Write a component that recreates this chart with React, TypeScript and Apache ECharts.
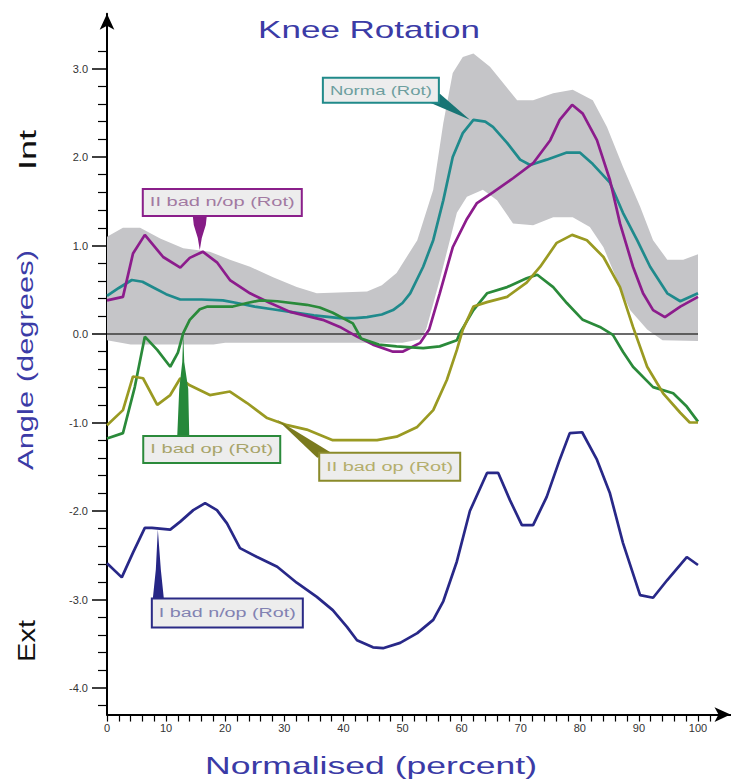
import React, { useEffect, useRef } from 'react';
import * as echarts from 'echarts';

const W = 731;
const H = 782;
const FONT = '"Liberation Sans", Arial, sans-serif';

// Knee rotation over the normalised cycle, [percent, degrees]
const normaRot: [number, number][] = [
  [0, 0.43], [2, 0.52], [4.2, 0.61], [6, 0.59], [8, 0.52], [10, 0.45], [12.4, 0.39], [16, 0.39],
  [19.6, 0.38], [22, 0.35], [25, 0.31], [28, 0.28], [31, 0.25], [35, 0.21], [39.4, 0.18], [42, 0.18],
  [44, 0.19], [46.5, 0.22], [48.4, 0.27], [50, 0.35], [51.3, 0.46], [53.5, 0.76], [55.2, 1.06],
  [56.9, 1.51], [58.5, 2.0], [60.2, 2.27], [62, 2.42], [64, 2.4], [65.3, 2.34], [67.7, 2.16],
  [69.9, 1.97], [71.6, 1.91], [74.4, 1.97], [77.8, 2.05], [80, 2.05], [82.2, 1.92], [85.1, 1.71],
  [87.3, 1.37], [89.7, 1.06], [91.9, 0.76], [94.8, 0.46], [97, 0.37], [100, 0.46],
];

const badNopII: [number, number][] = [
  [0, 0.38], [2.7, 0.42], [4.4, 0.91], [6.4, 1.12], [9.5, 0.87], [12.4, 0.75], [14, 0.86],
  [16.2, 0.93], [18.6, 0.81], [20.8, 0.61], [24.2, 0.46], [27.6, 0.35], [31, 0.25], [36.5, 0.16],
  [39.4, 0.08], [42.3, -0.03], [45, -0.12], [48.4, -0.2], [50, -0.2], [53, -0.1], [54.5, 0.05],
  [56.3, 0.46], [58.5, 0.98], [60.9, 1.3], [62.6, 1.48], [65.3, 1.6], [68.7, 1.76], [72.1, 1.93],
  [75, 2.19], [76.6, 2.42], [78.7, 2.59], [80.5, 2.49], [82.9, 2.19], [85.1, 1.74], [86.8, 1.25],
  [89, 0.76], [90.7, 0.46], [92.4, 0.27], [94.4, 0.19], [97, 0.31], [100, 0.42],
];

const badOpI: [number, number][] = [
  [0, -1.18], [2.7, -1.12], [4.7, -0.6], [6.4, -0.03], [8.5, -0.18], [10.7, -0.37], [12, -0.21],
  [12.9, 0.01], [14, 0.16], [15.7, 0.28], [17, 0.31], [19.6, 0.31], [21.3, 0.31], [23.7, 0.35],
  [25.9, 0.38], [28.8, 0.37], [33.8, 0.33], [36, 0.3], [38.2, 0.24], [41.6, 0.12], [43, -0.05],
  [46, -0.12], [49, -0.14], [53.5, -0.16], [56.3, -0.14], [59.2, -0.07], [59.7, 0.01], [62, 0.27],
  [64.3, 0.46], [67.7, 0.53], [71, 0.63], [72.8, 0.67], [75.5, 0.53], [77.8, 0.35], [80.5, 0.16],
  [83.4, 0.08], [85.6, -0.01], [87.3, -0.2], [89, -0.37], [92.4, -0.6], [95.8, -0.67], [98.1, -0.82],
  [100, -0.99],
];

const badOpII: [number, number][] = [
  [0, -1.03], [2.7, -0.86], [4.4, -0.48], [6.1, -0.5], [8.5, -0.8], [10.7, -0.69], [12.4, -0.5],
  [14, -0.58], [17.4, -0.69], [20.8, -0.65], [23.7, -0.78], [27.1, -0.95], [30.5, -1.03],
  [33.8, -1.08], [38.2, -1.2], [45.7, -1.2], [49, -1.16], [52.5, -1.05], [55.2, -0.86], [57.5, -0.52],
  [59.2, -0.18], [60.2, 0.05], [62, 0.31], [64.3, 0.36], [67.7, 0.42], [71, 0.58], [73.3, 0.76],
  [76.1, 1.03], [78.7, 1.12], [81.2, 1.06], [84, 0.87], [86.8, 0.53], [89, 0.08], [91.4, -0.37],
  [94.1, -0.67], [97, -0.89], [98.6, -1.0], [100, -1.0],
];

const badNopI: [number, number][] = [
  [0, -2.59], [2.5, -2.75], [4.4, -2.47], [6.4, -2.19], [7.6, -2.19], [10.7, -2.21], [12.4, -2.12],
  [14.6, -1.99], [16.6, -1.91], [18.6, -1.99], [20.3, -2.14], [22.5, -2.42], [25.4, -2.52],
  [28.8, -2.63], [32.1, -2.81], [35.5, -2.97], [38.2, -3.12], [40.6, -3.31], [42.3, -3.46],
  [45, -3.54], [46.7, -3.55], [49.6, -3.49], [52.5, -3.38], [55.2, -3.23], [56.9, -3.02],
  [59.2, -2.57], [61.4, -2.0], [64.3, -1.57], [66.2, -1.57], [68.2, -1.88], [70.2, -2.16],
  [72.1, -2.16], [74.4, -1.84], [76.6, -1.42], [78.3, -1.12], [80.4, -1.11], [82.9, -1.42],
  [85.1, -1.8], [87.3, -2.36], [90.2, -2.95], [92.4, -2.98], [94.8, -2.78], [98.1, -2.52],
  [100, -2.61],
];

// Normal range envelope (upper and lower edges)
const normaUpper: [number, number][] = [
  [0, 1.1], [2.7, 1.2], [5.6, 1.2], [9, 1.08], [12.9, 0.97], [17.4, 0.93], [20.8, 0.84],
  [24.2, 0.76], [28.1, 0.64], [32.1, 0.53], [35.5, 0.46], [44, 0.48], [46.5, 0.55], [49, 0.69],
  [52.5, 1.06], [55.2, 1.63], [56.9, 2.38], [58.5, 2.95], [60.2, 3.13], [62, 3.17], [64.8, 3.02],
  [67, 2.84], [69.4, 2.64], [72.1, 2.64], [75.5, 2.72], [78.8, 2.76], [82.2, 2.64], [84.6, 2.34],
  [87.3, 1.89], [90.2, 1.44], [92.4, 1.06], [94.8, 0.84], [97.5, 0.84], [100, 0.9],
];

const normaLower: [number, number][] = [
  [0, -0.07], [4, -0.12], [18, -0.12], [20, -0.1], [50, -0.1], [53, -0.06], [54, 0.05],
  [56.3, 0.61], [59.2, 1.37], [60.9, 1.55], [63.6, 1.63], [66, 1.51], [68.7, 1.25], [72.1, 1.23],
  [75.5, 1.32], [78.8, 1.32], [81.7, 1.21], [84, 0.98], [86.3, 0.61], [88.5, 0.27], [91.4, 0.05],
  [94, -0.07], [100, -0.08],
];

const zeroLine: [number, number][] = [[0, 0], [100, 0]];

const xTickLabels = [0, 10, 20, 30, 40, 50, 60, 70, 80, 90, 100];
const yTickLabels = [-4, -3, -2, -1, 0, 1, 2, 3];

// Tick marks every 2 percent on x and every 0.2 degree on y
const xTicks: number[] = [];
for (let i = 0; i <= 102; i += 2) xTicks.push(i);
const yMinorTicks: number[] = [];
for (let i = -42; i <= 32; i += 2) if (i % 10 !== 0) yMinorTicks.push(i / 10);

// Callout boxes pinned to a point on each curve
const calloutText = ['Norma (Rot)', 'II bad n/op (Rot)', 'I bad op (Rot)', 'II bad op (Rot)', 'I bad n/op (Rot)'];
const calloutAt: [number, number][] = [[61.4, 2.42], [15.7, 0.95], [12.9, 0.0], [28.8, -0.97], [8.6, -2.21]];

const calloutStyle = [
  { stroke: '#218a8a', text: '#6d9f9f', wedge: '#187575' },
  { stroke: '#8a1f8a', text: '#a27aa2', wedge: '#861c86' },
  { stroke: '#2b8a3b', text: '#a8a46a', wedge: '#26883a' },
  { stroke: '#8a8a2a', text: '#b4ae6c', wedge: '#7a7a1e' },
  { stroke: '#2a2a86', text: '#8282b2', wedge: '#262686' },
];

// Box and pointer geometry in pixels, relative to the pinned point
const calloutLayout = [
  { dx: -147, dy: -42, w: 116, h: 25, wedge: [[-42, -18], [-30, -26], [0, 0]] },
  { dx: -57, dy: -61, w: 159, h: 27, wedge: [[-7, -34], [7, -34], [6, -25], [2, -12], [0, 0], [-2, -12], [-6, -25]] },
  { dx: -40, dy: 102, w: 137, h: 27, wedge: [[-6, 102], [6, 102], [5, 55], [1, 28], [0, 0], [-1, 28], [-4, 55]] },
  { dx: 42, dy: 33, w: 141, h: 28, wedge: [[40, 38], [54, 33], [0, 0]] },
  { dx: -6, dy: 69, w: 151, h: 29, wedge: [[-5, 69], [6, 69], [3, 40], [0, 0], [-2, 40]] },
];

let measureCtx: CanvasRenderingContext2D | null = null;
function measure(text: string, size: number): number {
  if (!measureCtx) measureCtx = document.createElement('canvas').getContext('2d');
  if (!measureCtx) return text.length * size * 0.55;
  measureCtx.font = `${size}px ${FONT}`;
  return measureCtx.measureText(text).width;
}

function stretchedText(
  text: string, cx: number, cy: number, size: number, span: number, fill: string, rotation = 0,
) {
  return {
    type: 'text',
    x: cx,
    y: cy,
    rotation,
    scaleX: span / measure(text, size),
    silent: true,
    style: {
      text,
      fill,
      fontSize: size,
      fontFamily: FONT,
      align: 'center',
      verticalAlign: 'middle',
      textAlign: 'center',
      textVerticalAlign: 'middle',
    },
  };
}

// Axis extents: the arrow tips sit at the ends of the axis lines
const X_MAX = 105.5;
const Y_MIN = -4.3;
const Y_MAX = 3.62;
const X0 = 107;
const PX_PER_PCT = 5.91;
const Y_ZERO = 334;
const PX_PER_DEG = 88.5;

export default function App() {
  const ref = useRef<HTMLDivElement>(null);

  useEffect(() => {
    if (!ref.current) return;
    const chart = echarts.init(ref.current, undefined, { renderer: 'svg', width: W, height: H });

    const axisColor = '#000';
    const curve = (name: string, data: [number, number][], color: string) => ({
      name,
      type: 'line',
      data,
      symbol: 'none',
      showSymbol: false,
      z: 3,
      lineStyle: { color, width: 2.7 },
      itemStyle: { color },
      silent: true,
    });

    const option: any = {
      animation: false,
      backgroundColor: '#fff',
      grid: {
        left: X0,
        right: W - (X0 + X_MAX * PX_PER_PCT),
        top: Y_ZERO - Y_MAX * PX_PER_DEG,
        bottom: H - (Y_ZERO - Y_MIN * PX_PER_DEG),
        containLabel: false,
        outerBoundsMode: 'none',
      },
      xAxis: [
        {
          type: 'value',
          min: 0,
          max: X_MAX,
          interval: 2,
          splitLine: { show: false },
          axisLine: {
            onZero: false,
            lineStyle: { color: axisColor, width: 2 },
            symbol: ['none', 'arrow'],
            symbolSize: [11, 16],
          },
          axisTick: { show: true, customValues: xTicks, length: 7, lineStyle: { color: axisColor, width: 1.2 } },
          axisLabel: {
            customValues: xTickLabels,
            color: '#333',
            fontSize: 11,
            fontFamily: FONT,
            margin: 8,
          },
        },
      ],
      yAxis: [
        {
          type: 'value',
          min: Y_MIN,
          max: Y_MAX,
          position: 'left',
          splitLine: { show: false },
          axisLine: {
            onZero: false,
            lineStyle: { color: axisColor, width: 2 },
            symbol: ['none', 'arrow'],
            symbolSize: [11, 16],
          },
          axisTick: { show: true, customValues: yTickLabels, length: 15, lineStyle: { color: axisColor, width: 1.5 } },
          axisLabel: {
            customValues: yTickLabels,
            formatter: (v: number) => v.toFixed(1),
            color: '#333',
            fontSize: 11,
            fontFamily: FONT,
            margin: 19,
          },
        },
        {
          type: 'value',
          min: Y_MIN,
          max: Y_MAX,
          position: 'left',
          offset: 0,
          splitLine: { show: false },
          axisLine: { show: false, onZero: false },
          axisTick: { show: true, customValues: yMinorTicks, length: 9, lineStyle: { color: axisColor, width: 1.2 } },
          axisLabel: { show: false },
        },
      ],
      graphic: [
        stretchedText('Knee Rotation', 369, 30, 24, 222, '#3b3ba6'),
        stretchedText('Normalised (percent)', 371, 766, 24, 332, '#3b3ba6'),
        stretchedText('Angle (degrees)', 25, 360, 23, 220, '#3b3ba6', Math.PI / 2),
        stretchedText('Int', 27, 150, 24, 40, '#111', Math.PI / 2),
        stretchedText('Ext', 27, 641, 24, 42, '#111', Math.PI / 2),
      ],
      series: [
        {
          name: 'Normal range',
          type: 'custom',
          z: 1,
          silent: true,
          data: [[0, 0]],
          renderItem: (_params: any, api: any) => {
            const top = normaUpper.map((p) => api.coord(p));
            const bottom = normaLower.slice().reverse().map((p) => api.coord(p));
            return {
              type: 'polygon',
              shape: { points: top.concat(bottom) },
              style: { fill: '#c5c5c8' },
            };
          },
        },
        {
          name: 'zero',
          type: 'line',
          data: zeroLine,
          symbol: 'none',
          z: 2,
          silent: true,
          lineStyle: { color: '#3a3a3a', width: 1.5 },
        },
        curve('Norma (Rot)', normaRot, '#1f8a8c'),
        curve('II bad n/op (Rot)', badNopII, '#8c1c8c'),
        curve('I bad op (Rot)', badOpI, '#2a8a3a'),
        curve('II bad op (Rot)', badOpII, '#9a9a22'),
        curve('I bad n/op (Rot)', badNopI, '#282888'),
        {
          name: 'callouts',
          type: 'custom',
          z: 10,
          silent: true,
          clip: false,
          data: calloutAt,
          renderItem: (params: any, api: any) => {
            const i = params.dataIndex;
            const [tx, ty] = api.coord(calloutAt[i]);
            const L = calloutLayout[i];
            const S = calloutStyle[i];
            const bx = tx + L.dx;
            const by = ty + L.dy;
            const text = calloutText[i];
            const size = 12;
            return {
              type: 'group',
              children: [
                {
                  type: 'polygon',
                  shape: { points: L.wedge.map(([a, b]) => [tx + a, ty + b]) },
                  style: { fill: S.wedge },
                },
                {
                  type: 'rect',
                  shape: { x: bx, y: by, width: L.w, height: L.h },
                  style: { fill: '#ededed', stroke: S.stroke, lineWidth: 2 },
                },
                {
                  type: 'text',
                  x: bx + L.w / 2,
                  y: by + L.h / 2,
                  scaleX: (L.w - 14) / measure(text, size),
                  style: {
                    text,
                    fill: S.text,
                    fontSize: size,
                    fontFamily: FONT,
                    align: 'center',
                    verticalAlign: 'middle',
                    textAlign: 'center',
                    textVerticalAlign: 'middle',
                  },
                },
              ],
            };
          },
        },
      ],
    };

    chart.setOption(option);
    return () => chart.dispose();
  }, []);

  return (
    <div
      ref={ref}
      style={{ position: 'fixed', left: 0, top: 0, width: W, height: H, background: '#fff' }}
    />
  );
}
